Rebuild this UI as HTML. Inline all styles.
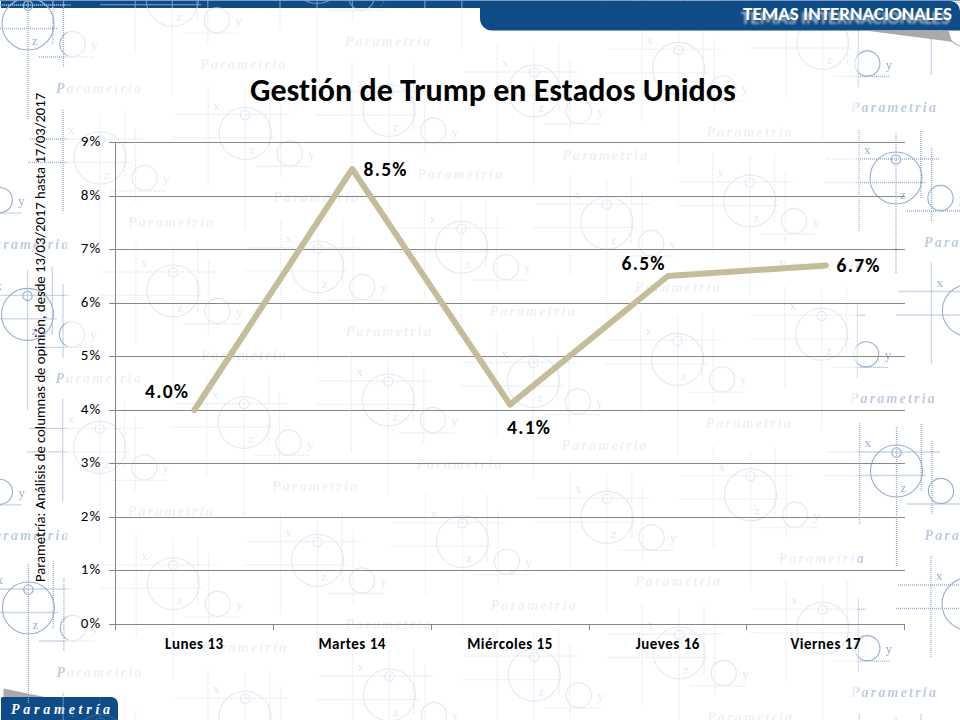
<!DOCTYPE html>
<html><head><meta charset="utf-8">
<style>
html,body{margin:0;padding:0;background:#fff}
body{width:960px;height:720px;overflow:hidden;position:relative}
svg{position:absolute;left:0;top:0;font-variant-ligatures:none;font-feature-settings:"liga" 0,"clig" 0}
.c{font-family:Carlito,"Liberation Sans",sans-serif}
#ws .l{fill:none;stroke:#a8bde0;stroke-width:1.2}
#ws .k{fill:none;stroke:#a8bde0;stroke-width:1.1}
#wm .l{fill:none;stroke:#98acd2;stroke-width:1.3;stroke-dasharray:1 1}
#wm .k{fill:none;stroke:#98acd2;stroke-width:1.1}
#wm .g{font-family:"Liberation Serif",serif;font-size:13px;fill:#98acd2}
#wm .p{font-family:"Liberation Serif",serif;font-style:italic;font-weight:bold;font-size:14px;letter-spacing:2.2px;fill:#bfcbe2}
</style></head><body>
<svg width="960" height="720" viewBox="0 0 960 720">
<defs>
<linearGradient id="fadeg" x1="0" y1="0" x2="960" y2="0" gradientUnits="userSpaceOnUse">
<stop offset="0.0667" stop-color="#fff"/>
<stop offset="0.0719" stop-color="#474747"/>
<stop offset="0.8906" stop-color="#474747"/>
<stop offset="0.8958" stop-color="#fff"/>
</linearGradient>
<mask id="fade" maskUnits="userSpaceOnUse" x="0" y="0" width="960" height="720">
<rect x="0" y="0" width="960" height="720" fill="url(#fadeg)"/>
</mask>
<clipPath id="stripclip"><rect x="1" y="1" width="950" height="7"/></clipPath>
</defs>
<!-- background strip + tab -->
<rect x="0" y="0" width="960" height="1" fill="#7d9cc8"/>
<rect x="1" y="1" width="950" height="7" fill="#0d4c87"/>
<polygon points="3.5,688.5 46,697.2 3.5,697.2" fill="#aaaaaa"/>
<path d="M1,720 V698.5 A1.5,1.5 0 0 1 2.5,697 H111 A7,7 0 0 1 118,704 V720 Z" fill="#0d4c87"/>
<text x="11" y="713.5" font-family="'Liberation Serif',serif" font-weight="bold" font-style="italic" font-size="14" letter-spacing="3.75" fill="#fff">Parametría</text>
<g id="wm" mask="url(#fade)">
<path class="l" d="M-153.9 581V683M-116.9 585V724M-92.1 582V650M-81.4 599V673M-186.9 610H-73.9M-188.9 633.5H-87.9M-105.9 662H-50.9"/>
<circle class="k" cx="-116.9" cy="629" r="26"/>
<circle class="k" cx="-116.9" cy="610.5" r="4.7"/>
<circle class="k" cx="-72.4" cy="649" r="12.6"/>
<text class="g" x="-148.9" y="605">x</text>
<text class="g" x="-112.9" y="649.5">z</text>
<text class="g" x="-53.9" y="654">y</text>
<text class="p" x="-88.9" y="697.5">Parametria</text>
<path class="l" d="M-81.5 715.5V817.5M-44.5 719.5V858.5M-19.7 716.5V784.5M-9 733.5V807.5M-114.5 744.5H-1.5M-116.5 768H-15.5M-33.5 796.5H21.5"/>
<circle class="k" cx="-44.5" cy="763.5" r="26"/>
<circle class="k" cx="-44.5" cy="745" r="4.7"/>
<circle class="k" cx="0" cy="783.5" r="12.6"/>
<text class="g" x="-76.5" y="739.5">x</text>
<text class="g" x="-40.5" y="784">z</text>
<text class="g" x="18.5" y="788.5">y</text>
<text class="p" x="-16.5" y="832">Parametria</text>
<path class="l" d="M-154 289.3V391.3M-117 293.3V432.3M-92.2 290.3V358.3M-81.5 307.3V381.3M-187 318.3H-74M-189 341.8H-88M-106 370.3H-51"/>
<circle class="k" cx="-117" cy="337.3" r="26"/>
<circle class="k" cx="-117" cy="318.8" r="4.7"/>
<circle class="k" cx="-72.5" cy="357.3" r="12.6"/>
<text class="g" x="-149" y="313.3">x</text>
<text class="g" x="-113" y="357.8">z</text>
<text class="g" x="-54" y="362.3">y</text>
<text class="p" x="-89" y="405.8">Parametria</text>
<path class="l" d="M-81.6 423.8V525.8M-44.6 427.8V566.8M-19.8 424.8V492.8M-9.1 441.8V515.8M-114.6 452.8H-1.6M-116.6 476.3H-15.6M-33.6 504.8H21.4"/>
<circle class="k" cx="-44.6" cy="471.8" r="26"/>
<circle class="k" cx="-44.6" cy="453.3" r="4.7"/>
<circle class="k" cx="-0.1" cy="491.8" r="12.6"/>
<text class="g" x="-76.6" y="447.8">x</text>
<text class="g" x="-40.6" y="492.3">z</text>
<text class="g" x="18.4" y="496.8">y</text>
<text class="p" x="-16.6" y="540.3">Parametria</text>
<path class="l" d="M-8.6 560V662M28.4 564V703M53.2 561V629M63.9 578V652M-41.6 589H71.4M-43.6 612.5H57.4M39.4 641H94.4"/>
<circle class="k" cx="28.4" cy="608" r="26"/>
<circle class="k" cx="28.4" cy="589.5" r="4.7"/>
<circle class="k" cx="72.9" cy="628" r="12.6"/>
<text class="g" x="-3.6" y="584">x</text>
<text class="g" x="32.4" y="628.5">z</text>
<text class="g" x="91.4" y="633">y</text>
<text class="p" x="56.4" y="676.5">Parametria</text>
<path class="l" d="M63.2 692.8V794.8M100.2 696.8V835.8M125 693.8V761.8M135.7 710.8V784.8M30.2 721.8H143.2M28.2 745.3H129.2M111.2 773.8H166.2"/>
<circle class="k" cx="100.2" cy="740.8" r="26"/>
<circle class="k" cx="100.2" cy="722.3" r="4.7"/>
<circle class="k" cx="144.7" cy="760.8" r="12.6"/>
<text class="g" x="68.2" y="716.8">x</text>
<text class="g" x="104.2" y="761.3">z</text>
<text class="g" x="163.2" y="765.8">y</text>
<text class="p" x="128.2" y="809.3">Parametria</text>
<path class="l" d="M-154.1 -2.4V99.6M-117.1 1.6V140.6M-92.3 -1.4V66.6M-81.6 15.6V89.6M-187.1 26.6H-74.1M-189.1 50.1H-88.1M-106.1 78.6H-51.1"/>
<circle class="k" cx="-117.1" cy="45.6" r="26"/>
<circle class="k" cx="-117.1" cy="27.1" r="4.7"/>
<circle class="k" cx="-72.6" cy="65.6" r="12.6"/>
<text class="g" x="-149.1" y="21.6">x</text>
<text class="g" x="-113.1" y="66.1">z</text>
<text class="g" x="-54.1" y="70.6">y</text>
<text class="p" x="-89.1" y="114.1">Parametria</text>
<path class="l" d="M-81.7 132.1V234.1M-44.7 136.1V275.1M-19.9 133.1V201.1M-9.2 150.1V224.1M-114.7 161.1H-1.7M-116.7 184.6H-15.7M-33.7 213.1H21.3"/>
<circle class="k" cx="-44.7" cy="180.1" r="26"/>
<circle class="k" cx="-44.7" cy="161.6" r="4.7"/>
<circle class="k" cx="-0.2" cy="200.1" r="12.6"/>
<text class="g" x="-76.7" y="156.1">x</text>
<text class="g" x="-40.7" y="200.6">z</text>
<text class="g" x="18.3" y="205.1">y</text>
<text class="p" x="-16.7" y="248.6">Parametria</text>
<path class="l" d="M-9.5 266.4V368.4M27.5 270.4V409.4M52.3 267.4V335.4M63 284.4V358.4M-42.5 295.4H70.5M-44.5 318.9H56.5M38.5 347.4H93.5"/>
<circle class="k" cx="27.5" cy="314.4" r="26"/>
<circle class="k" cx="27.5" cy="295.9" r="4.7"/>
<circle class="k" cx="72" cy="334.4" r="12.6"/>
<text class="g" x="-4.5" y="290.4">x</text>
<text class="g" x="31.5" y="334.9">z</text>
<text class="g" x="90.5" y="339.4">y</text>
<text class="p" x="55.5" y="382.9">Parametria</text>
<path class="l" d="M62.7 399.4V501.4M99.7 403.4V542.4M124.5 400.4V468.4M135.2 417.4V491.4M29.7 428.4H142.7M27.7 451.9H128.7M110.7 480.4H165.7"/>
<circle class="k" cx="99.7" cy="447.4" r="26"/>
<circle class="k" cx="99.7" cy="428.9" r="4.7"/>
<circle class="k" cx="144.2" cy="467.4" r="12.6"/>
<text class="g" x="67.7" y="423.4">x</text>
<text class="g" x="103.7" y="467.9">z</text>
<text class="g" x="162.7" y="472.4">y</text>
<text class="p" x="127.7" y="515.9">Parametria</text>
<path class="l" d="M136.2 535.8V637.8M173.2 539.8V678.8M198 536.8V604.8M208.7 553.8V627.8M103.2 564.8H216.2M101.2 588.3H202.2M184.2 616.8H239.2"/>
<circle class="k" cx="173.2" cy="583.8" r="26"/>
<circle class="k" cx="173.2" cy="565.3" r="4.7"/>
<circle class="k" cx="217.7" cy="603.8" r="12.6"/>
<text class="g" x="141.2" y="559.8">x</text>
<text class="g" x="177.2" y="604.3">z</text>
<text class="g" x="236.2" y="608.8">y</text>
<text class="p" x="201.2" y="652.3">Parametria</text>
<path class="l" d="M208 669.3V771.3M245 673.3V812.3M269.8 670.3V738.3M280.5 687.3V761.3M175 698.3H288M173 721.8H274M256 750.3H311"/>
<circle class="k" cx="245" cy="717.3" r="26"/>
<circle class="k" cx="245" cy="698.8" r="4.7"/>
<circle class="k" cx="289.5" cy="737.3" r="12.6"/>
<text class="g" x="213" y="693.3">x</text>
<text class="g" x="249" y="737.8">z</text>
<text class="g" x="308" y="742.3">y</text>
<text class="p" x="273" y="785.8">Parametria</text>
<path class="l" d="M-9 -24V78M28 -20V119M52.8 -23V45M63.5 -6V68M-42 5H71M-44 28.5H57M39 57H94"/>
<circle class="k" cx="28" cy="24" r="26"/>
<circle class="k" cx="28" cy="5.5" r="4.7"/>
<circle class="k" cx="72.5" cy="44" r="12.6"/>
<text class="g" x="-4" y="0">x</text>
<text class="g" x="32" y="44.5">z</text>
<text class="g" x="91" y="49">y</text>
<text class="p" x="56" y="92.5">Parametria</text>
<path class="l" d="M63.1 110V212M100.1 114V253M124.9 111V179M135.6 128V202M30.1 139H143.1M28.1 162.5H129.1M111.1 191H166.1"/>
<circle class="k" cx="100.1" cy="158" r="26"/>
<circle class="k" cx="100.1" cy="139.5" r="4.7"/>
<circle class="k" cx="144.6" cy="178" r="12.6"/>
<text class="g" x="68.1" y="134">x</text>
<text class="g" x="104.1" y="178.5">z</text>
<text class="g" x="163.1" y="183">y</text>
<text class="p" x="128.1" y="226.5">Parametria</text>
<path class="l" d="M135.9 243V345M172.9 247V386M197.7 244V312M208.4 261V335M102.9 272H215.9M100.9 295.5H201.9M183.9 324H238.9"/>
<circle class="k" cx="172.9" cy="291" r="26"/>
<circle class="k" cx="172.9" cy="272.5" r="4.7"/>
<circle class="k" cx="217.4" cy="311" r="12.6"/>
<text class="g" x="140.9" y="267">x</text>
<text class="g" x="176.9" y="311.5">z</text>
<text class="g" x="235.9" y="316">y</text>
<text class="p" x="200.9" y="359.5">Parametria</text>
<path class="l" d="M207 374.5V476.5M244 378.5V517.5M268.8 375.5V443.5M279.5 392.5V466.5M174 403.5H287M172 427H273M255 455.5H310"/>
<circle class="k" cx="244" cy="422.5" r="26"/>
<circle class="k" cx="244" cy="404" r="4.7"/>
<circle class="k" cx="288.5" cy="442.5" r="12.6"/>
<text class="g" x="212" y="398.5">x</text>
<text class="g" x="248" y="443">z</text>
<text class="g" x="307" y="447.5">y</text>
<text class="p" x="272" y="491">Parametria</text>
<path class="l" d="M280.5 512.5V614.5M317.5 516.5V655.5M342.3 513.5V581.5M353 530.5V604.5M247.5 541.5H360.5M245.5 565H346.5M328.5 593.5H383.5"/>
<circle class="k" cx="317.5" cy="560.5" r="26"/>
<circle class="k" cx="317.5" cy="542" r="4.7"/>
<circle class="k" cx="362" cy="580.5" r="12.6"/>
<text class="g" x="285.5" y="536.5">x</text>
<text class="g" x="321.5" y="581">z</text>
<text class="g" x="380.5" y="585.5">y</text>
<text class="p" x="345.5" y="629">Parametria</text>
<path class="l" d="M352.4 647V749M389.4 651V790M414.2 648V716M424.9 665V739M319.4 676H432.4M317.4 699.5H418.4M400.4 728H455.4"/>
<circle class="k" cx="389.4" cy="695" r="26"/>
<circle class="k" cx="389.4" cy="676.5" r="4.7"/>
<circle class="k" cx="433.9" cy="715" r="12.6"/>
<text class="g" x="357.4" y="671">x</text>
<text class="g" x="393.4" y="715.5">z</text>
<text class="g" x="452.4" y="720">y</text>
<text class="p" x="417.4" y="763.5">Parametria</text>
<path class="l" d="M135.3 -47.8V54.2M172.3 -43.8V95.2M197.1 -46.8V21.2M207.8 -29.8V44.2M102.3 -18.8H215.3M100.3 4.7H201.3M183.3 33.2H238.3"/>
<circle class="k" cx="172.3" cy="0.2" r="26"/>
<circle class="k" cx="172.3" cy="-18.3" r="4.7"/>
<circle class="k" cx="216.8" cy="20.2" r="12.6"/>
<text class="g" x="140.3" y="-23.8">x</text>
<text class="g" x="176.3" y="20.7">z</text>
<text class="g" x="235.3" y="25.2">y</text>
<text class="p" x="200.3" y="68.7">Parametria</text>
<path class="l" d="M208.2 85.5V187.5M245.2 89.5V228.5M270 86.5V154.5M280.7 103.5V177.5M175.2 114.5H288.2M173.2 138H274.2M256.2 166.5H311.2"/>
<circle class="k" cx="245.2" cy="133.5" r="26"/>
<circle class="k" cx="245.2" cy="115" r="4.7"/>
<circle class="k" cx="289.7" cy="153.5" r="12.6"/>
<text class="g" x="213.2" y="109.5">x</text>
<text class="g" x="249.2" y="154">z</text>
<text class="g" x="308.2" y="158.5">y</text>
<text class="p" x="273.2" y="202">Parametria</text>
<path class="l" d="M280.8 219V321M317.8 223V362M342.6 220V288M353.3 237V311M247.8 248H360.8M245.8 271.5H346.8M328.8 300H383.8"/>
<circle class="k" cx="317.8" cy="267" r="26"/>
<circle class="k" cx="317.8" cy="248.5" r="4.7"/>
<circle class="k" cx="362.3" cy="287" r="12.6"/>
<text class="g" x="285.8" y="243">x</text>
<text class="g" x="321.8" y="287.5">z</text>
<text class="g" x="380.8" y="292">y</text>
<text class="p" x="345.8" y="335.5">Parametria</text>
<path class="l" d="M351.3 352V454M388.3 356V495M413.1 353V421M423.8 370V444M318.3 381H431.3M316.3 404.5H417.3M399.3 433H454.3"/>
<circle class="k" cx="388.3" cy="400" r="26"/>
<circle class="k" cx="388.3" cy="381.5" r="4.7"/>
<circle class="k" cx="432.8" cy="420" r="12.6"/>
<text class="g" x="356.3" y="376">x</text>
<text class="g" x="392.3" y="420.5">z</text>
<text class="g" x="451.3" y="425">y</text>
<text class="p" x="416.3" y="468.5">Parametria</text>
<path class="l" d="M425.5 493.6V595.6M462.5 497.6V636.6M487.3 494.6V562.6M498 511.6V585.6M392.5 522.6H505.5M390.5 546.1H491.5M473.5 574.6H528.5"/>
<circle class="k" cx="462.5" cy="541.6" r="26"/>
<circle class="k" cx="462.5" cy="523.1" r="4.7"/>
<circle class="k" cx="507" cy="561.6" r="12.6"/>
<text class="g" x="430.5" y="517.6">x</text>
<text class="g" x="466.5" y="562.1">z</text>
<text class="g" x="525.5" y="566.6">y</text>
<text class="p" x="490.5" y="610.1">Parametria</text>
<path class="l" d="M497.2 627.2V729.2M534.2 631.2V770.2M559 628.2V696.2M569.7 645.2V719.2M464.2 656.2H577.2M462.2 679.7H563.2M545.2 708.2H600.2"/>
<circle class="k" cx="534.2" cy="675.2" r="26"/>
<circle class="k" cx="534.2" cy="656.7" r="4.7"/>
<circle class="k" cx="578.7" cy="695.2" r="12.6"/>
<text class="g" x="502.2" y="651.2">x</text>
<text class="g" x="538.2" y="695.7">z</text>
<text class="g" x="597.2" y="700.2">y</text>
<text class="p" x="562.2" y="743.7">Parametria</text>
<path class="l" d="M280 -70.5V31.5M317 -66.5V72.5M341.8 -69.5V-1.5M352.5 -52.5V21.5M247 -41.5H360M245 -18H346M328 10.5H383"/>
<circle class="k" cx="317" cy="-22.5" r="26"/>
<circle class="k" cx="317" cy="-41" r="4.7"/>
<circle class="k" cx="361.5" cy="-2.5" r="12.6"/>
<text class="g" x="285" y="-46.5">x</text>
<text class="g" x="321" y="-2">z</text>
<text class="g" x="380" y="2.5">y</text>
<text class="p" x="345" y="46">Parametria</text>
<path class="l" d="M352 62.5V164.5M389 66.5V205.5M413.8 63.5V131.5M424.5 80.5V154.5M319 91.5H432M317 115H418M400 143.5H455"/>
<circle class="k" cx="389" cy="110.5" r="26"/>
<circle class="k" cx="389" cy="92" r="4.7"/>
<circle class="k" cx="433.5" cy="130.5" r="12.6"/>
<text class="g" x="357" y="86.5">x</text>
<text class="g" x="393" y="131">z</text>
<text class="g" x="452" y="135.5">y</text>
<text class="p" x="417" y="179">Parametria</text>
<path class="l" d="M424.5 199.2V301.2M461.5 203.2V342.2M486.3 200.2V268.2M497 217.2V291.2M391.5 228.2H504.5M389.5 251.7H490.5M472.5 280.2H527.5"/>
<circle class="k" cx="461.5" cy="247.2" r="26"/>
<circle class="k" cx="461.5" cy="228.7" r="4.7"/>
<circle class="k" cx="506" cy="267.2" r="12.6"/>
<text class="g" x="429.5" y="223.2">x</text>
<text class="g" x="465.5" y="267.7">z</text>
<text class="g" x="524.5" y="272.2">y</text>
<text class="p" x="489.5" y="315.7">Parametria</text>
<path class="l" d="M496.5 333.5V435.5M533.5 337.5V476.5M558.3 334.5V402.5M569 351.5V425.5M463.5 362.5H576.5M461.5 386H562.5M544.5 414.5H599.5"/>
<circle class="k" cx="533.5" cy="381.5" r="26"/>
<circle class="k" cx="533.5" cy="363" r="4.7"/>
<circle class="k" cx="578" cy="401.5" r="12.6"/>
<text class="g" x="501.5" y="357.5">x</text>
<text class="g" x="537.5" y="402">z</text>
<text class="g" x="596.5" y="406.5">y</text>
<text class="p" x="561.5" y="450">Parametria</text>
<path class="l" d="M570 469.4V571.4M607 473.4V612.4M631.8 470.4V538.4M642.5 487.4V561.4M537 498.4H650M535 521.9H636M618 550.4H673"/>
<circle class="k" cx="607" cy="517.4" r="26"/>
<circle class="k" cx="607" cy="498.9" r="4.7"/>
<circle class="k" cx="651.5" cy="537.4" r="12.6"/>
<text class="g" x="575" y="493.4">x</text>
<text class="g" x="611" y="537.9">z</text>
<text class="g" x="670" y="542.4">y</text>
<text class="p" x="635" y="585.9">Parametria</text>
<path class="l" d="M642.2 605V707M679.2 609V748M704 606V674M714.7 623V697M609.2 634H722.2M607.2 657.5H708.2M690.2 686H745.2"/>
<circle class="k" cx="679.2" cy="653" r="26"/>
<circle class="k" cx="679.2" cy="634.5" r="4.7"/>
<circle class="k" cx="723.7" cy="673" r="12.6"/>
<text class="g" x="647.2" y="629">x</text>
<text class="g" x="683.2" y="673.5">z</text>
<text class="g" x="742.2" y="678">y</text>
<text class="p" x="707.2" y="721.5">Parametria</text>
<path class="l" d="M424.8 -93.2V8.8M461.8 -89.2V49.8M486.6 -92.2V-24.2M497.3 -75.2V-1.2M391.8 -64.2H504.8M389.8 -40.7H490.8M472.8 -12.2H527.8"/>
<circle class="k" cx="461.8" cy="-45.2" r="26"/>
<circle class="k" cx="461.8" cy="-63.7" r="4.7"/>
<circle class="k" cx="506.3" cy="-25.2" r="12.6"/>
<text class="g" x="429.8" y="-69.2">x</text>
<text class="g" x="465.8" y="-24.7">z</text>
<text class="g" x="524.8" y="-20.2">y</text>
<text class="p" x="489.8" y="23.3">Parametria</text>
<path class="l" d="M497.2 43V145M534.2 47V186M559 44V112M569.7 61V135M464.2 72H577.2M462.2 95.5H563.2M545.2 124H600.2"/>
<circle class="k" cx="534.2" cy="91" r="26"/>
<circle class="k" cx="534.2" cy="72.5" r="4.7"/>
<circle class="k" cx="578.7" cy="111" r="12.6"/>
<text class="g" x="502.2" y="67">x</text>
<text class="g" x="538.2" y="111.5">z</text>
<text class="g" x="597.2" y="116">y</text>
<text class="p" x="562.2" y="159.5">Parametria</text>
<path class="l" d="M569.7 175V277M606.7 179V318M631.5 176V244M642.2 193V267M536.7 204H649.7M534.7 227.5H635.7M617.7 256H672.7"/>
<circle class="k" cx="606.7" cy="223" r="26"/>
<circle class="k" cx="606.7" cy="204.5" r="4.7"/>
<circle class="k" cx="651.2" cy="243" r="12.6"/>
<text class="g" x="574.7" y="199">x</text>
<text class="g" x="610.7" y="243.5">z</text>
<text class="g" x="669.7" y="248">y</text>
<text class="p" x="634.7" y="291.5">Parametria</text>
<path class="l" d="M640.6 311.4V413.4M677.6 315.4V454.4M702.4 312.4V380.4M713.1 329.4V403.4M607.6 340.4H720.6M605.6 363.9H706.6M688.6 392.4H743.6"/>
<circle class="k" cx="677.6" cy="359.4" r="26"/>
<circle class="k" cx="677.6" cy="340.9" r="4.7"/>
<circle class="k" cx="722.1" cy="379.4" r="12.6"/>
<text class="g" x="645.6" y="335.4">x</text>
<text class="g" x="681.6" y="379.9">z</text>
<text class="g" x="740.6" y="384.4">y</text>
<text class="p" x="705.6" y="427.9">Parametria</text>
<path class="l" d="M713.5 446.7V548.7M750.5 450.7V589.7M775.3 447.7V515.7M786 464.7V538.7M680.5 475.7H793.5M678.5 499.2H779.5M761.5 527.7H816.5"/>
<circle class="k" cx="750.5" cy="494.7" r="26"/>
<circle class="k" cx="750.5" cy="476.2" r="4.7"/>
<circle class="k" cx="795" cy="514.7" r="12.6"/>
<text class="g" x="718.5" y="470.7">x</text>
<text class="g" x="754.5" y="515.2">z</text>
<text class="g" x="813.5" y="519.7">y</text>
<text class="p" x="778.5" y="563.2">Parametria</text>
<path class="l" d="M785.8 580.2V682.2M822.8 584.2V723.2M847.6 581.2V649.2M858.3 598.2V672.2M752.8 609.2H865.8M750.8 632.7H851.8M833.8 661.2H888.8"/>
<circle class="k" cx="822.8" cy="628.2" r="26"/>
<circle class="k" cx="822.8" cy="609.7" r="4.7"/>
<circle class="k" cx="867.3" cy="648.2" r="12.6"/>
<text class="g" x="790.8" y="604.2">x</text>
<text class="g" x="826.8" y="648.7">z</text>
<text class="g" x="885.8" y="653.2">y</text>
<text class="p" x="850.8" y="696.7">Parametria</text>
<path class="l" d="M859.2 713.8V815.8M896.2 717.8V856.8M921 714.8V782.8M931.7 731.8V805.8M826.2 742.8H939.2M824.2 766.3H925.2M907.2 794.8H962.2"/>
<circle class="k" cx="896.2" cy="761.8" r="26"/>
<circle class="k" cx="896.2" cy="743.3" r="4.7"/>
<circle class="k" cx="940.7" cy="781.8" r="12.6"/>
<text class="g" x="864.2" y="737.8">x</text>
<text class="g" x="900.2" y="782.3">z</text>
<text class="g" x="959.2" y="786.8">y</text>
<text class="p" x="924.2" y="830.3">Parametria</text>
<path class="l" d="M569.5 -115.9V-13.9M606.5 -111.9V27.1M631.3 -114.9V-46.9M642 -97.9V-23.9M536.5 -86.9H649.5M534.5 -63.4H635.5M617.5 -34.9H672.5"/>
<circle class="k" cx="606.5" cy="-67.9" r="26"/>
<circle class="k" cx="606.5" cy="-86.4" r="4.7"/>
<circle class="k" cx="651" cy="-47.9" r="12.6"/>
<text class="g" x="574.5" y="-91.9">x</text>
<text class="g" x="610.5" y="-47.4">z</text>
<text class="g" x="669.5" y="-42.9">y</text>
<text class="p" x="634.5" y="0.6">Parametria</text>
<path class="l" d="M641.6 20.4V122.4M678.6 24.4V163.4M703.4 21.4V89.4M714.1 38.4V112.4M608.6 49.4H721.6M606.6 72.9H707.6M689.6 101.4H744.6"/>
<circle class="k" cx="678.6" cy="68.4" r="26"/>
<circle class="k" cx="678.6" cy="49.9" r="4.7"/>
<circle class="k" cx="723.1" cy="88.4" r="12.6"/>
<text class="g" x="646.6" y="44.4">x</text>
<text class="g" x="682.6" y="88.9">z</text>
<text class="g" x="741.6" y="93.4">y</text>
<text class="p" x="706.6" y="136.9">Parametria</text>
<path class="l" d="M712.7 153V255M749.7 157V296M774.5 154V222M785.2 171V245M679.7 182H792.7M677.7 205.5H778.7M760.7 234H815.7"/>
<circle class="k" cx="749.7" cy="201" r="26"/>
<circle class="k" cx="749.7" cy="182.5" r="4.7"/>
<circle class="k" cx="794.2" cy="221" r="12.6"/>
<text class="g" x="717.7" y="177">x</text>
<text class="g" x="753.7" y="221.5">z</text>
<text class="g" x="812.7" y="226">y</text>
<text class="p" x="777.7" y="269.5">Parametria</text>
<path class="l" d="M784.7 286.3V388.3M821.7 290.3V429.3M846.5 287.3V355.3M857.2 304.3V378.3M751.7 315.3H864.7M749.7 338.8H850.7M832.7 367.3H887.7"/>
<circle class="k" cx="821.7" cy="334.3" r="26"/>
<circle class="k" cx="821.7" cy="315.8" r="4.7"/>
<circle class="k" cx="866.2" cy="354.3" r="12.6"/>
<text class="g" x="789.7" y="310.3">x</text>
<text class="g" x="825.7" y="354.8">z</text>
<text class="g" x="884.7" y="359.3">y</text>
<text class="p" x="849.7" y="402.8">Parametria</text>
<path class="l" d="M859.5 423V525M896.5 427V566M921.3 424V492M932 441V515M826.5 452H939.5M824.5 475.5H925.5M907.5 504H962.5"/>
<circle class="k" cx="896.5" cy="471" r="26"/>
<circle class="k" cx="896.5" cy="452.5" r="4.7"/>
<circle class="k" cx="941" cy="491" r="12.6"/>
<text class="g" x="864.5" y="447">x</text>
<text class="g" x="900.5" y="491.5">z</text>
<text class="g" x="959.5" y="496">y</text>
<text class="p" x="924.5" y="539.5">Parametria</text>
<path class="l" d="M931 556V658M968 560V699M992.8 557V625M1003.5 574V648M898 585H1011M896 608.5H997M979 637H1034"/>
<circle class="k" cx="968" cy="604" r="26"/>
<circle class="k" cx="968" cy="585.5" r="4.7"/>
<circle class="k" cx="1012.5" cy="624" r="12.6"/>
<text class="g" x="936" y="580">x</text>
<text class="g" x="972" y="624.5">z</text>
<text class="g" x="1031" y="629">y</text>
<text class="p" x="996" y="672.5">Parametria</text>
<path class="l" d="M714.2 -138.6V-36.6M751.2 -134.6V4.4M776 -137.6V-69.6M786.7 -120.6V-46.6M681.2 -109.6H794.2M679.2 -86.1H780.2M762.2 -57.6H817.2"/>
<circle class="k" cx="751.2" cy="-90.6" r="26"/>
<circle class="k" cx="751.2" cy="-109.1" r="4.7"/>
<circle class="k" cx="795.7" cy="-70.6" r="12.6"/>
<text class="g" x="719.2" y="-114.6">x</text>
<text class="g" x="755.2" y="-70.1">z</text>
<text class="g" x="814.2" y="-65.6">y</text>
<text class="p" x="779.2" y="-22.1">Parametria</text>
<path class="l" d="M785.8 -4.5V97.5M822.8 -0.5V138.5M847.6 -3.5V64.5M858.3 13.5V87.5M752.8 24.5H865.8M750.8 48H851.8M833.8 76.5H888.8"/>
<circle class="k" cx="822.8" cy="43.5" r="26"/>
<circle class="k" cx="822.8" cy="25" r="4.7"/>
<circle class="k" cx="867.3" cy="63.5" r="12.6"/>
<text class="g" x="790.8" y="19.5">x</text>
<text class="g" x="826.8" y="64">z</text>
<text class="g" x="885.8" y="68.5">y</text>
<text class="p" x="850.8" y="112">Parametria</text>
<path class="l" d="M859 130V232M896 134V273M920.8 131V199M931.5 148V222M826 159H939M824 182.5H925M907 211H962"/>
<circle class="k" cx="896" cy="178" r="26"/>
<circle class="k" cx="896" cy="159.5" r="4.7"/>
<circle class="k" cx="940.5" cy="198" r="12.6"/>
<text class="g" x="864" y="154">x</text>
<text class="g" x="900" y="198.5">z</text>
<text class="g" x="959" y="203">y</text>
<text class="p" x="924" y="246.5">Parametria</text>
<path class="l" d="M931.4 262.5V364.5M968.4 266.5V405.5M993.2 263.5V331.5M1003.9 280.5V354.5M898.4 291.5H1011.4M896.4 315H997.4M979.4 343.5H1034.4"/>
<circle class="k" cx="968.4" cy="310.5" r="26"/>
<circle class="k" cx="968.4" cy="292" r="4.7"/>
<circle class="k" cx="1012.9" cy="330.5" r="12.6"/>
<text class="g" x="936.4" y="286.5">x</text>
<text class="g" x="972.4" y="331">z</text>
<text class="g" x="1031.4" y="335.5">y</text>
<text class="p" x="996.4" y="379">Parametria</text>
<path class="l" d="M931.3 -26.7V75.3M968.3 -22.7V116.3M993.1 -25.7V42.3M1003.8 -8.7V65.3M898.3 2.3H1011.3M896.3 25.8H997.3M979.3 54.3H1034.3"/>
<circle class="k" cx="968.3" cy="21.3" r="26"/>
<circle class="k" cx="968.3" cy="2.8" r="4.7"/>
<circle class="k" cx="1012.8" cy="41.3" r="12.6"/>
<text class="g" x="936.3" y="-2.7">x</text>
<text class="g" x="972.3" y="41.8">z</text>
<text class="g" x="1031.3" y="46.3">y</text>
<text class="p" x="996.3" y="89.8">Parametria</text>
</g>
<g id="ws" clip-path="url(#stripclip)" opacity="0.55">
<path class="l" d="M-154.1 -2.4V99.6M-117.1 1.6V140.6M-92.3 -1.4V66.6M-81.6 15.6V89.6M-187.1 26.6H-74.1M-189.1 50.1H-88.1M-106.1 78.6H-51.1"/>
<circle class="k" cx="-117.1" cy="45.6" r="26"/>
<circle class="k" cx="-117.1" cy="27.1" r="4.7"/>
<circle class="k" cx="-72.6" cy="65.6" r="12.6"/>
<path class="l" d="M-9 -24V78M28 -20V119M52.8 -23V45M63.5 -6V68M-42 5H71M-44 28.5H57M39 57H94"/>
<circle class="k" cx="28" cy="24" r="26"/>
<circle class="k" cx="28" cy="5.5" r="4.7"/>
<circle class="k" cx="72.5" cy="44" r="12.6"/>
<path class="l" d="M135.3 -47.8V54.2M172.3 -43.8V95.2M197.1 -46.8V21.2M207.8 -29.8V44.2M102.3 -18.8H215.3M100.3 4.7H201.3M183.3 33.2H238.3"/>
<circle class="k" cx="172.3" cy="0.2" r="26"/>
<circle class="k" cx="172.3" cy="-18.3" r="4.7"/>
<circle class="k" cx="216.8" cy="20.2" r="12.6"/>
<path class="l" d="M280 -70.5V31.5M317 -66.5V72.5M341.8 -69.5V-1.5M352.5 -52.5V21.5M247 -41.5H360M245 -18H346M328 10.5H383"/>
<circle class="k" cx="317" cy="-22.5" r="26"/>
<circle class="k" cx="317" cy="-41" r="4.7"/>
<circle class="k" cx="361.5" cy="-2.5" r="12.6"/>
<path class="l" d="M424.8 -93.2V8.8M461.8 -89.2V49.8M486.6 -92.2V-24.2M497.3 -75.2V-1.2M391.8 -64.2H504.8M389.8 -40.7H490.8M472.8 -12.2H527.8"/>
<circle class="k" cx="461.8" cy="-45.2" r="26"/>
<circle class="k" cx="461.8" cy="-63.7" r="4.7"/>
<circle class="k" cx="506.3" cy="-25.2" r="12.6"/>
<path class="l" d="M569.5 -115.9V-13.9M606.5 -111.9V27.1M631.3 -114.9V-46.9M642 -97.9V-23.9M536.5 -86.9H649.5M534.5 -63.4H635.5M617.5 -34.9H672.5"/>
<circle class="k" cx="606.5" cy="-67.9" r="26"/>
<circle class="k" cx="606.5" cy="-86.4" r="4.7"/>
<circle class="k" cx="651" cy="-47.9" r="12.6"/>
<path class="l" d="M714.2 -138.6V-36.6M751.2 -134.6V4.4M776 -137.6V-69.6M786.7 -120.6V-46.6M681.2 -109.6H794.2M679.2 -86.1H780.2M762.2 -57.6H817.2"/>
<circle class="k" cx="751.2" cy="-90.6" r="26"/>
<circle class="k" cx="751.2" cy="-109.1" r="4.7"/>
<circle class="k" cx="795.7" cy="-70.6" r="12.6"/>
<path class="l" d="M785.8 -4.5V97.5M822.8 -0.5V138.5M847.6 -3.5V64.5M858.3 13.5V87.5M752.8 24.5H865.8M750.8 48H851.8M833.8 76.5H888.8"/>
<circle class="k" cx="822.8" cy="43.5" r="26"/>
<circle class="k" cx="822.8" cy="25" r="4.7"/>
<circle class="k" cx="867.3" cy="63.5" r="12.6"/>
<path class="l" d="M931.3 -26.7V75.3M968.3 -22.7V116.3M993.1 -25.7V42.3M1003.8 -8.7V65.3M898.3 2.3H1011.3M896.3 25.8H997.3M979.3 54.3H1034.3"/>
<circle class="k" cx="968.3" cy="21.3" r="26"/>
<circle class="k" cx="968.3" cy="2.8" r="4.7"/>
<circle class="k" cx="1012.8" cy="41.3" r="12.6"/>
</g>
<!-- top band -->
<path d="M480,1 H950 A10,10 0 0 1 960,11 V30.5 H492 A12,12 0 0 1 480,18.5 Z" fill="#0d4c87"/>
<polygon points="865,30.5 948.5,30.5 952,41.8" fill="#aaaaaa"/>
<text x="743" y="19.8" class="c" font-weight="bold" font-size="19" fill="#b4bcc8" opacity="0.9" transform="translate(-2,4.5)" style="filter:blur(1.3px)" textLength="208.94" lengthAdjust="spacingAndGlyphs">TEMAS INTERNACIONALES</text>
<text x="743" y="19.8" class="c" font-weight="bold" font-size="19" fill="#ffffff" textLength="208.94" lengthAdjust="spacingAndGlyphs">TEMAS INTERNACIONALES</text>

<!-- title -->
<text x="250" y="100.7" class="c" font-weight="bold" font-size="32" fill="#000" textLength="485.72" lengthAdjust="spacingAndGlyphs">Gestión de Trump en Estados Unidos</text>

<!-- rotated caption -->
<text transform="translate(45.3,582) rotate(-90)" class="c" font-size="14.67" fill="#000" textLength="489.14" lengthAdjust="spacingAndGlyphs">Parametría: Análisis de columnas de opinión, desde 13/03/2017 hasta 17/03/2017</text>

<!-- chart grid -->
<g stroke="#878787" stroke-width="1" shape-rendering="crispEdges">
<line x1="109" y1="142.5" x2="905" y2="142.5"/>
<line x1="109" y1="196.5" x2="905" y2="196.5"/>
<line x1="109" y1="249.5" x2="905" y2="249.5"/>
<line x1="109" y1="303.5" x2="905" y2="303.5"/>
<line x1="109" y1="356.5" x2="905" y2="356.5"/>
<line x1="109" y1="410.5" x2="905" y2="410.5"/>
<line x1="109" y1="463.5" x2="905" y2="463.5"/>
<line x1="109" y1="517.5" x2="905" y2="517.5"/>
<line x1="109" y1="570.5" x2="905" y2="570.5"/>
<line x1="109" y1="624.5" x2="905" y2="624.5"/>
<line x1="115.5" y1="142" x2="115.5" y2="630"/>
<line x1="273.5" y1="624" x2="273.5" y2="630"/>
<line x1="431.5" y1="624" x2="431.5" y2="630"/>
<line x1="589.5" y1="624" x2="589.5" y2="630"/>
<line x1="746.5" y1="624" x2="746.5" y2="630"/>
<line x1="904.5" y1="624" x2="904.5" y2="630"/>
</g>
<g class="c" font-size="15" letter-spacing="1.2" fill="#000" text-anchor="end">
<text x="101.5" y="146" textLength="20.73" lengthAdjust="spacingAndGlyphs">9%</text>
<text x="101.5" y="200" textLength="20.73" lengthAdjust="spacingAndGlyphs">8%</text>
<text x="101.5" y="253" textLength="20.73" lengthAdjust="spacingAndGlyphs">7%</text>
<text x="101.5" y="307" textLength="20.73" lengthAdjust="spacingAndGlyphs">6%</text>
<text x="101.5" y="360" textLength="20.73" lengthAdjust="spacingAndGlyphs">5%</text>
<text x="101.5" y="414" textLength="20.73" lengthAdjust="spacingAndGlyphs">4%</text>
<text x="101.5" y="467" textLength="20.73" lengthAdjust="spacingAndGlyphs">3%</text>
<text x="101.5" y="521" textLength="20.73" lengthAdjust="spacingAndGlyphs">2%</text>
<text x="101.5" y="574" textLength="20.73" lengthAdjust="spacingAndGlyphs">1%</text>
<text x="101.5" y="628" textLength="20.73" lengthAdjust="spacingAndGlyphs">0%</text>
</g>
<g class="c" font-size="15" letter-spacing="0.5" font-weight="bold" fill="#000" text-anchor="middle">
<text x="194.4" y="648.6" textLength="58.58" lengthAdjust="spacingAndGlyphs">Lunes 13</text>
<text x="352.2" y="648.6" textLength="67.5" lengthAdjust="spacingAndGlyphs">Martes 14</text>
<text x="510" y="648.6" textLength="85.56" lengthAdjust="spacingAndGlyphs">Miércoles 15</text>
<text x="667.9" y="648.6" textLength="64.09" lengthAdjust="spacingAndGlyphs">Jueves 16</text>
<text x="825.7" y="648.6" textLength="70.63" lengthAdjust="spacingAndGlyphs">Viernes 17</text>
</g>
<polyline points="194.4,410 352.2,169 510,404.7 667.9,276 825.7,265.4" fill="none" stroke="#c4bd97" stroke-width="6" stroke-linejoin="round" stroke-linecap="round"/>
<g class="c" font-size="19.5" font-weight="bold" fill="#000" letter-spacing="1.3">
<text x="145" y="398" textLength="44.39" lengthAdjust="spacingAndGlyphs">4.0%</text>
<text x="363.5" y="176" textLength="44.39" lengthAdjust="spacingAndGlyphs">8.5%</text>
<text x="507" y="434" textLength="44.39" lengthAdjust="spacingAndGlyphs">4.1%</text>
<text x="621.5" y="270" textLength="44.39" lengthAdjust="spacingAndGlyphs">6.5%</text>
<text x="836.5" y="272" textLength="44.39" lengthAdjust="spacingAndGlyphs">6.7%</text>
</g>
</svg>
</body></html>
